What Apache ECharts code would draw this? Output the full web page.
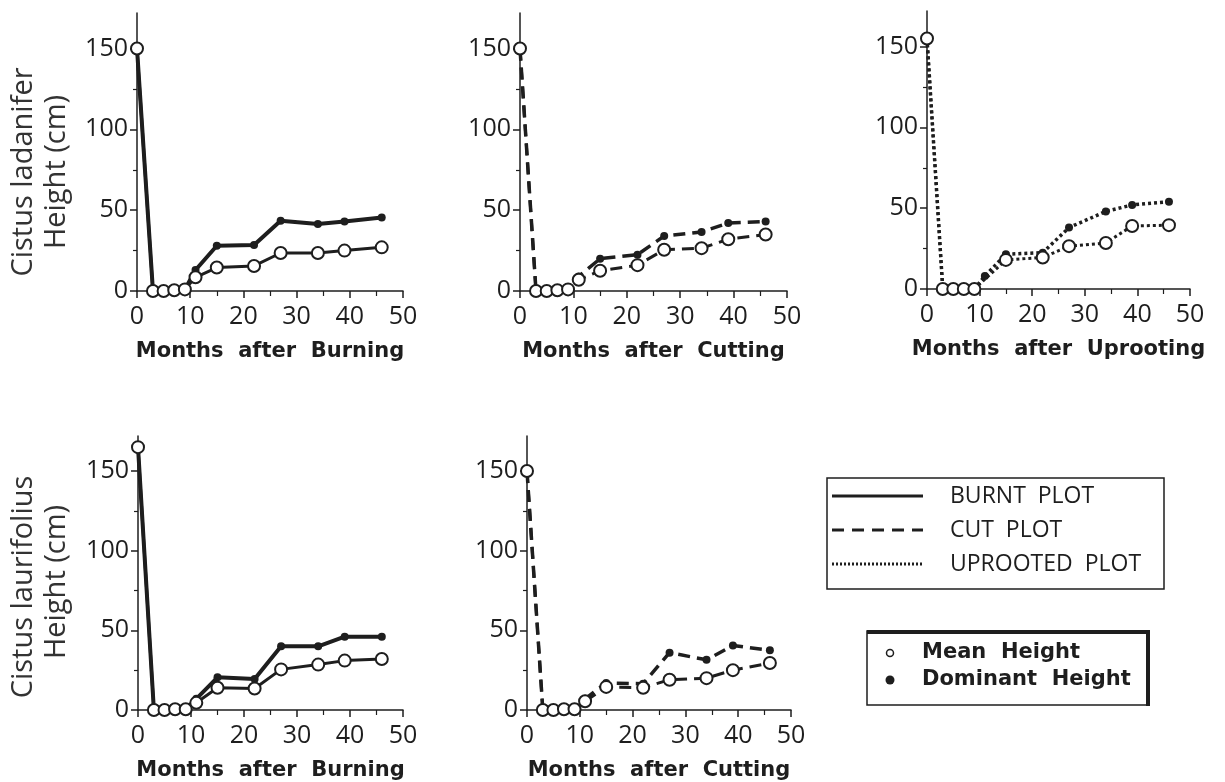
<!DOCTYPE html>
<html>
<head>
<meta charset="utf-8">
<script src="https://cdn.jsdelivr.net/npm/echarts@6/dist/echarts.min.js"></script>
<style>
  html, body { margin: 0; padding: 0; background: #fff; }
  #chart { width: 1225px; height: 782px; }
</style>
</head>
<body>
<div id="chart"></div>
<script>
// months after treatment (shared by every panel)
const months = [0, 3, 5, 7, 9, 11, 15, 22, 27, 34, 39, 46];

// Cistus ladanifer
const ladBurnMean = [150, 0, 0, 0.5, 1, 8.5, 14.5, 15.5, 23.5, 23.5, 25, 27];
const ladBurnDom = [150, 0, 0, 0.5, 1, 13, 28, 28.5, 43.5, 41.5, 43, 45.5];
const ladCutMean = [150, 0, 0, 0.5, 1, 7, 12.5, 16, 25.5, 26.5, 32, 35];
const ladCutDom = [150, 0, 0, 0.5, 1, 9, 20, 22.5, 34, 36.5, 42, 43];
const ladUprootMean = [155, 0, 0, 0, 0, null, 18, 19.5, 26.5, 28.5, 39, 39.5];
const ladUprootDom = [155, 0, 0, 0, 0, 8, 21.5, 22.5, 38, 48, 52, 54];

// Cistus laurifolius
const laurBurnMean = [165, 0, 0, 0.5, 0.5, 4.5, 14, 13.5, 25.5, 28.5, 31, 32];
const laurBurnDom = [165, 0, 0, 0.5, 0.5, 7, 20.5, 19.5, 40, 40, 46, 46];
const laurCutMean = [150, 0, 0, 0.5, 0.5, 5.5, 14.5, 14, 19, 20, 25, 29.5];
const laurCutDom = [150, 0, 0, 0.5, 0.5, 7, 17, 16.5, 36, 31.5, 40.5, 37.5];

// axis ticks
const yMajorTicks = [0, 50, 100, 150];
const yMinorTicks = [25, 75, 125];

const INK = '#1e1e1e';
const SOLID = { type: 'solid', w: 4, wm: 3 };
const DASHED = { type: [12, 7], w: 3.5, wm: 3 };
const DOTTED = { type: [3, 3], w: 3.5, wm: 3 };

const panels = [
  { left: 137, top: 13, width: 266, height: 278, xName: 'Months  after  Burning', mean: ladBurnMean, dom: ladBurnDom, style: SOLID },
  { left: 520, top: 13, width: 267, height: 278, xName: 'Months  after  Cutting', mean: ladCutMean, dom: ladCutDom, style: DASHED },
  { left: 927, top: 11, width: 263, height: 278, xName: 'Months  after  Uprooting', mean: ladUprootMean, dom: ladUprootDom, style: DOTTED },
  { left: 138, top: 436, width: 265, height: 278, xName: 'Months  after  Burning', mean: laurBurnMean, dom: laurBurnDom, style: SOLID },
  { left: 527, top: 436, width: 264, height: 278, xName: 'Months  after  Cutting', mean: laurCutMean, dom: laurCutDom, style: DASHED }
];

const pairs = arr => months.map((m, i) => [m, arr[i]]);

const grid = [], xAxis = [], yAxis = [], series = [];

panels.forEach((p, i) => {
  grid.push({ left: p.left, top: p.top, width: p.width, height: p.height, containLabel: false });

  xAxis.push({
    type: 'value', gridIndex: i, min: 0, max: 50, interval: 10,
    name: p.xName, nameLocation: 'middle', nameGap: 50,
    nameTextStyle: { fontFamily: 'DejaVu Sans', fontWeight: 'bold', fontSize: 21, color: INK },
    axisLine: { lineStyle: { color: INK, width: 1.5 } },
    axisTick: { length: 7, lineStyle: { color: INK, width: 1.5 } },
    minorTick: { show: true, splitNumber: 2, length: 5, lineStyle: { color: INK, width: 1.2 } },
    axisLabel: { margin: 13, fontFamily: 'Open Sans', fontSize: 25, color: INK },
    splitLine: { show: false }
  });

  yAxis.push({
    type: 'value', gridIndex: i, position: 'left', min: 0, max: 172,
    axisLine: { show: true, lineStyle: { color: INK, width: 1.5 } },
    axisTick: { show: true, length: 7, customValues: yMajorTicks, lineStyle: { color: INK, width: 1.5 } },
    axisLabel: { margin: 9, customValues: yMajorTicks, fontFamily: 'Open Sans', fontSize: 25, color: INK },
    splitLine: { show: false }
  });
  yAxis.push({
    type: 'value', gridIndex: i, position: 'left', min: 0, max: 172,
    axisLine: { show: false },
    axisTick: { show: true, length: 4, customValues: yMinorTicks, lineStyle: { color: INK, width: 1.2 } },
    axisLabel: { show: false },
    splitLine: { show: false }
  });

  // dominant height first, mean height drawn over it
  series.push({
    type: 'line', xAxisIndex: i, yAxisIndex: 2 * i, data: pairs(p.dom),
    symbol: 'circle', symbolSize: 8, connectNulls: true,
    lineStyle: { color: INK, width: p.style.w, type: p.style.type },
    itemStyle: { color: INK }
  });
  series.push({
    type: 'line', xAxisIndex: i, yAxisIndex: 2 * i, data: pairs(p.mean),
    symbol: 'circle', symbolSize: 12, connectNulls: true,
    lineStyle: { color: INK, width: p.style.wm, type: p.style.type },
    itemStyle: { color: '#fff', borderColor: INK, borderWidth: 2 }
  });
});

const titleFont = 'normal 29px "Open Sans"';
const legendFont = '23px "Open Sans"';
const legendBold = 'bold 21px "DejaVu Sans"';

const graphic = [
  // y axis titles
  { type: 'text', x: 24, y: 172, rotation: Math.PI / 2, style: { text: 'Cistus ladanifer', font: titleFont, fill: '#333', align: 'center', verticalAlign: 'middle' } },
  { type: 'text', x: 57, y: 172, rotation: Math.PI / 2, style: { text: 'Height (cm)', font: titleFont, fill: '#333', align: 'center', verticalAlign: 'middle' } },
  { type: 'text', x: 24, y: 587, rotation: Math.PI / 2, style: { text: 'Cistus laurifolius', font: titleFont, fill: '#333', align: 'center', verticalAlign: 'middle' } },
  { type: 'text', x: 57, y: 582, rotation: Math.PI / 2, style: { text: 'Height (cm)', font: titleFont, fill: '#333', align: 'center', verticalAlign: 'middle' } },

  // line-type legend
  { type: 'rect', shape: { x: 827, y: 478, width: 337, height: 111 }, style: { fill: 'none', stroke: INK, lineWidth: 1.5 } },
  { type: 'line', shape: { x1: 832, y1: 496, x2: 923, y2: 496 }, style: { stroke: INK, lineWidth: 3 } },
  { type: 'line', shape: { x1: 832, y1: 530, x2: 923, y2: 530 }, style: { stroke: INK, lineWidth: 3, lineDash: [12, 8] } },
  { type: 'line', shape: { x1: 832, y1: 564, x2: 923, y2: 564 }, style: { stroke: INK, lineWidth: 3, lineDash: [2, 2] } },
  { type: 'text', x: 950, y: 496, style: { text: 'BURNT  PLOT', font: legendFont, fill: INK, verticalAlign: 'middle' } },
  { type: 'text', x: 950, y: 530, style: { text: 'CUT  PLOT', font: legendFont, fill: INK, verticalAlign: 'middle' } },
  { type: 'text', x: 950, y: 564, style: { text: 'UPROOTED  PLOT', font: legendFont, fill: INK, verticalAlign: 'middle' } },

  // symbol legend (shadowed box)
  { type: 'rect', shape: { x: 867, y: 631, width: 281, height: 74 }, style: { fill: 'none', stroke: INK, lineWidth: 1.5 } },
  { type: 'line', shape: { x1: 867, y1: 632, x2: 1150, y2: 632 }, style: { stroke: INK, lineWidth: 4 } },
  { type: 'line', shape: { x1: 1148, y1: 631, x2: 1148, y2: 706 }, style: { stroke: INK, lineWidth: 4 } },
  { type: 'circle', shape: { cx: 890, cy: 653, r: 3.5 }, style: { fill: '#fff', stroke: INK, lineWidth: 1.5 } },
  { type: 'circle', shape: { cx: 890, cy: 680, r: 4.5 }, style: { fill: INK } },
  { type: 'text', x: 922, y: 653, style: { text: 'Mean  Height', font: legendBold, fill: INK, verticalAlign: 'middle' } },
  { type: 'text', x: 922, y: 680, style: { text: 'Dominant  Height', font: legendBold, fill: INK, verticalAlign: 'middle' } }
];

const chart = echarts.init(document.getElementById('chart'));
chart.setOption({
  backgroundColor: '#fff',
  animation: false,
  grid: grid,
  xAxis: xAxis,
  yAxis: yAxis,
  series: series,
  graphic: graphic
});
</script>
</body>
</html>
